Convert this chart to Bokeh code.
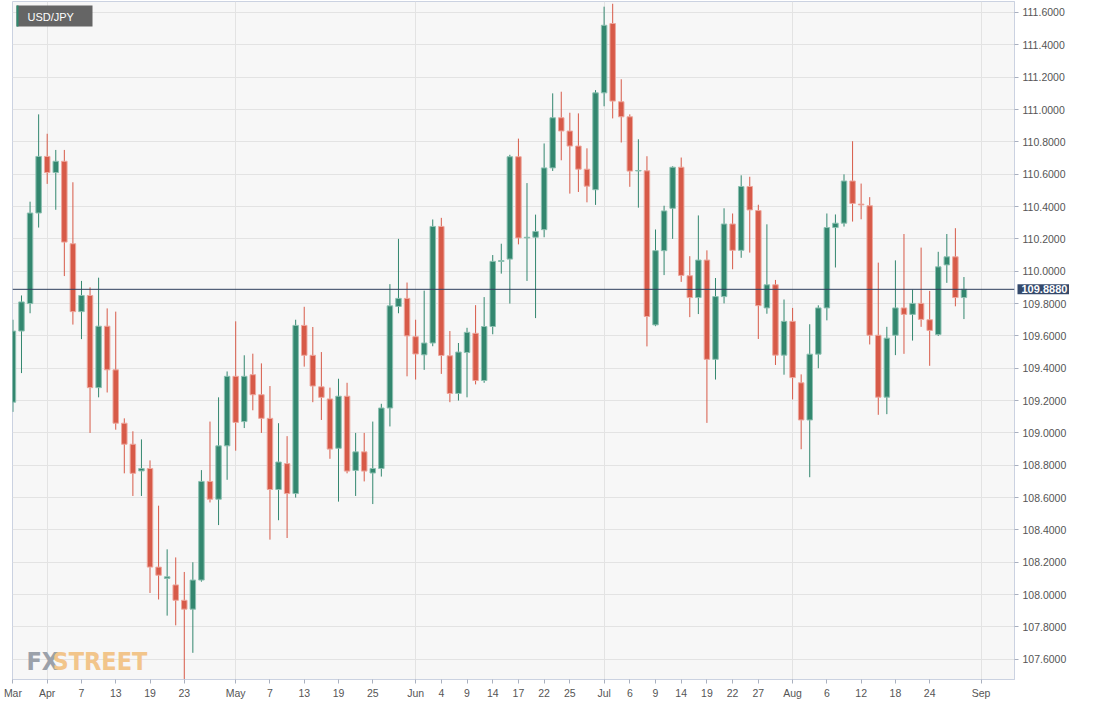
import pandas as pd
from bokeh.plotting import figure
from bokeh.models import (Range1d, FixedTicker, PrintfTickFormatter, Span, Label,
                          BoxAnnotation, ColumnDataSource)
from bokeh.embed import file_html
from bokeh.resources import INLINE

# ---------------- data (USD/JPY daily candles) ----------------
first_day = "2021-03-26"
last_axis_day = "2021-09-01"

open_ = [109.19, 109.63, 109.80, 110.36, 110.71, 110.61, 110.68, 110.17, 109.75, 109.85,
         109.28, 109.66, 109.39, 109.06, 108.93, 108.765, 108.78, 108.17, 108.10, 108.06,
         107.965, 107.91, 108.09, 108.70, 108.59, 108.92, 109.35, 109.07, 109.36, 109.236,
         109.09, 108.65, 108.81, 108.625, 109.665, 109.48, 109.285, 109.21, 108.905, 109.227,
         108.768, 108.883, 108.752, 108.78, 109.154, 109.782, 109.832, 109.595, 109.483, 109.556,
         110.277, 109.477, 109.244, 109.497, 109.616, 109.324, 109.658, 110.06, 110.075, 110.708,
         110.206, 110.21, 110.257, 110.639, 110.949, 110.867, 110.774, 110.631, 110.504, 111.103,
         111.532, 111.048, 110.955, 110.62, 110.621, 109.668, 110.127, 110.389, 110.643, 109.972,
         109.837, 110.069, 109.455, 109.843, 110.292, 110.129, 110.524, 110.375, 109.773, 109.916,
         109.481, 109.69, 109.31, 109.08, 109.487, 109.773, 110.27, 110.297, 110.558, 110.415,
         110.405, 109.604, 109.221, 109.604, 109.773, 109.733, 109.801, 109.70, 109.608, 110.039,
         110.089, 109.837]
high = [109.70, 109.85, 110.43, 110.97, 110.85, 110.75, 110.75, 110.55, 109.94, 109.90,
        109.96, 109.77, 109.75, 109.09, 109.01, 108.96, 108.83, 108.55, 108.28, 108.23,
        108.14, 108.20, 108.77, 109.07, 109.22, 109.38, 109.69, 109.48, 109.49, 109.43,
        109.29, 109.06, 108.98, 109.70, 109.78, 109.655, 109.50, 109.28, 109.335, 109.31,
        109.00, 109.00, 109.07, 109.18, 109.92, 110.20, 109.93, 109.70, 109.88, 110.32,
        110.33, 109.63, 109.556, 109.65, 109.79, 109.84, 110.10, 110.17, 110.72, 110.82,
        110.545, 110.35, 110.79, 111.10, 111.11, 110.98, 110.976, 110.76, 111.12, 111.636,
        111.654, 111.187, 110.97, 110.816, 110.711, 110.258, 110.405, 110.649, 110.703, 110.093,
        110.345, 110.129, 109.958, 110.389, 110.357, 110.593, 110.584, 110.411, 110.29, 109.946,
        109.825, 109.773, 109.362, 109.672, 109.789, 110.357, 110.351, 110.599, 110.804, 110.542,
        110.458, 110.053, 109.656, 110.067, 110.23, 109.886, 110.146, 109.878, 110.12, 110.23,
        110.266, 109.964]
low = [109.13, 109.37, 109.74, 110.27, 110.54, 110.38, 109.97, 109.67, 109.58, 109.00,
       109.22, 109.25, 109.02, 108.75, 108.61, 108.61, 108.01, 107.97, 107.87, 107.81,
       107.47, 107.64, 108.08, 108.57, 108.43, 108.71, 108.89, 109.03, 109.14, 109.00,
       108.34, 108.46, 108.35, 108.60, 109.41, 109.19, 109.08, 108.84, 108.575, 108.75,
       108.61, 108.70, 108.56, 108.73, 109.04, 109.74, 109.35, 109.33, 109.39, 109.536,
       109.365, 109.19, 109.20, 109.22, 109.30, 109.31, 109.61, 109.985, 109.80, 110.166,
       109.94, 109.71, 110.21, 110.62, 110.686, 110.48, 110.49, 110.426, 110.41, 111.02,
       110.945, 110.796, 110.522, 110.393, 109.535, 109.66, 109.976, 110.20, 109.934, 109.716,
       109.735, 109.062, 109.33, 109.801, 110.012, 110.083, 110.115, 109.581, 109.737, 109.42,
       109.36, 109.207, 108.899, 108.726, 109.40, 109.696, 110.023, 110.276, 110.307, 110.321,
       109.547, 109.112, 109.116, 109.481, 109.489, 109.571, 109.656, 109.415, 109.60, 109.928,
       109.783, 109.704]
close = [109.63, 109.81, 110.36, 110.71, 110.61, 110.68, 110.18, 109.75, 109.85, 109.28,
         109.66, 109.39, 109.06, 108.93, 108.75, 108.78, 108.17, 108.12, 108.11, 107.965,
         107.91, 108.09, 108.70, 108.59, 108.92, 109.35, 109.065, 109.35, 109.236, 109.09,
         108.65, 108.82, 108.625, 109.665, 109.48, 109.29, 109.22, 108.90, 109.227, 108.764,
         108.883, 108.764, 108.78, 109.154, 109.786, 109.832, 109.60, 109.488, 109.556, 110.277,
         109.479, 109.244, 109.50, 109.622, 109.324, 109.658, 110.061, 110.066, 110.708, 110.206,
         110.21, 110.246, 110.639, 110.949, 110.867, 110.774, 110.631, 110.526, 111.103, 111.521,
         111.052, 110.955, 110.619, 110.623, 109.72, 110.127, 110.373, 110.643, 109.974, 109.837,
         110.069, 109.455, 109.843, 110.292, 110.129, 110.524, 110.379, 109.787, 109.916, 109.481,
         109.69, 109.342, 109.08, 109.487, 109.773, 110.27, 110.297, 110.558, 110.419, 110.41,
         109.604, 109.221, 109.586, 109.773, 109.733, 109.801, 109.702, 109.634, 110.027, 110.089,
         109.837, 109.888]

tick_dates = ["2021-03-26", "2021-04-01", "2021-04-07", "2021-04-13", "2021-04-19", "2021-04-23",
              "2021-05-03", "2021-05-07", "2021-05-13", "2021-05-19", "2021-05-25",
              "2021-06-01", "2021-06-04", "2021-06-09", "2021-06-14", "2021-06-17", "2021-06-22",
              "2021-06-25", "2021-07-01", "2021-07-06", "2021-07-09", "2021-07-14", "2021-07-19",
              "2021-07-22", "2021-07-27", "2021-08-02", "2021-08-06", "2021-08-12", "2021-08-18",
              "2021-08-24", "2021-09-01"]
tick_labels = ["Mar", "Apr", "7", "13", "19", "23", "May", "7", "13", "19", "25",
               "Jun", "4", "9", "14", "17", "22", "25", "Jul", "6", "9", "14", "19",
               "22", "27", "Aug", "6", "12", "18", "24", "Sep"]
month_dates = ["2021-04-01", "2021-05-03", "2021-06-01", "2021-07-01", "2021-08-02", "2021-09-01"]
price_ticks = [107.6, 107.8, 108.0, 108.2, 108.4, 108.6, 108.8, 109.0, 109.2, 109.4, 109.6,
               109.8, 110.0, 110.2, 110.4, 110.6, 110.8, 111.0, 111.2, 111.4, 111.6]
last_price = 109.888
symbol = "USD/JPY"

# ---------------- positions ----------------
axis_days = pd.bdate_range(first_day, last_axis_day)
pos = {d.strftime("%Y-%m-%d"): i for i, d in enumerate(axis_days)}
xs = list(range(len(close)))

GREEN, RED = "#33876f", "#d75a48"
GREEN_EDGE, RED_EDGE = "#8cc0b1", "#eda79d"
is_up = [c >= o for o, c in zip(open_, close)]
src = ColumnDataSource(dict(
    x=xs, high=high, low=low,
    top=[max(o, c) for o, c in zip(open_, close)],
    bottom=[min(o, c) for o, c in zip(open_, close)],
    color=[GREEN if u else RED for u in is_up],
    edge=[GREEN_EDGE if u else RED_EDGE for u in is_up],
))

X_END = 116.9
FRAME_W, FRAME_H = 1002, 678
p = figure(frame_width=FRAME_W, frame_height=FRAME_H,
           x_range=Range1d(-0.05, X_END), y_range=Range1d(107.475, 111.668),
           y_axis_location="right", output_backend="svg", toolbar_location=None, tools="",
           min_border_left=12, min_border_top=1, min_border_bottom=0, min_border_right=0,
           background_fill_color="#f7f7f7", border_fill_color="white",
           outline_line_color="#cbd2e1")

# grids
p.ygrid.grid_line_color = "#e3e3e3"
p.xgrid.grid_line_color = "#e3e3e3"
p.xgrid.ticker = FixedTicker(ticks=[pos[d] for d in month_dates])

# x axis
xa = p.xaxis[0]
xa.ticker = FixedTicker(ticks=[pos[d] for d in tick_dates])
xa.major_label_overrides = {pos[d]: lab for d, lab in zip(tick_dates, tick_labels)}
xa.minor_tick_line_color = None
xa.major_tick_in = 0
xa.major_tick_out = 4
xa.major_tick_line_color = "#a9b0bf"
xa.axis_line_color = "#cbd2e1"
xa.major_label_text_font = "Liberation Sans"
xa.major_label_text_font_size = "10.5px"
xa.major_label_text_color = "#555555"
xa.major_label_standoff = 3

# y axis (right)
ya = p.yaxis[0]
ya.ticker = FixedTicker(ticks=price_ticks)
ya.formatter = PrintfTickFormatter(format="%.4f")
ya.minor_tick_line_color = None
ya.major_tick_in = 0
ya.major_tick_out = 4
ya.major_tick_line_color = "#a9b0bf"
ya.axis_line_color = "#cbd2e1"
ya.major_label_text_font = "Liberation Sans"
ya.major_label_text_font_size = "10.5px"
ya.major_label_text_color = "#555555"
ya.major_label_standoff = 4

# candles
p.segment(x0="x", y0="low", x1="x", y1="high", line_color="color", line_width=1, source=src)
p.vbar(x="x", width=0.64, top="top", bottom="bottom", fill_color="color",
       line_color="edge", line_width=1, source=src)

# last price line and tag (tag lives in a side panel so it is not clipped to the frame)
p.add_layout(Span(location=last_price, dimension="width", line_color="#2e3f5c", line_width=1))
p.add_layout(Label(x=X_END, y=last_price, x_offset=3, text=f"{last_price:.4f}",
                   text_baseline="middle", text_align="left", text_color="white",
                   text_font="Liberation Sans", text_font_style="bold", text_font_size="11px",
                   background_fill_color="#34496b",
                   padding=dict(left=4, right=4, top=1, bottom=1)), "below")

# symbol tag (top-left)
p.add_layout(BoxAnnotation(left=4, right=80, top=FRAME_H - 4, bottom=FRAME_H - 25,
                           left_units="screen", right_units="screen",
                           top_units="screen", bottom_units="screen",
                           fill_color="#656565", fill_alpha=1, line_color=None))
p.add_layout(BoxAnnotation(left=4, right=6, top=FRAME_H - 4, bottom=FRAME_H - 25,
                           left_units="screen", right_units="screen",
                           top_units="screen", bottom_units="screen",
                           fill_color="#2e8a6f", fill_alpha=1, line_color=None))
p.add_layout(Label(x=15, y=FRAME_H - 15, x_units="screen", y_units="screen", text=symbol,
                   text_baseline="middle", text_color="white", text_font="Liberation Sans",
                   text_font_size="11px"))

# watermark
WM_FONT = "DejaVu Sans Condensed, Roboto Condensed, Roboto"
p.add_layout(Label(x=14, y=18, x_units="screen", y_units="screen", text="FX",
                   text_baseline="alphabetic", text_color="#9ba1aa",
                   text_font=WM_FONT, text_font_style="bold", text_font_size="25px"))
p.add_layout(Label(x=40, y=18, x_units="screen", y_units="screen", text="STREET",
                   text_baseline="alphabetic", text_color="#f2c58b",
                   text_font=WM_FONT, text_font_style="bold", text_font_size="25px"))

open("out.html", "w").write(file_html(p, INLINE))
